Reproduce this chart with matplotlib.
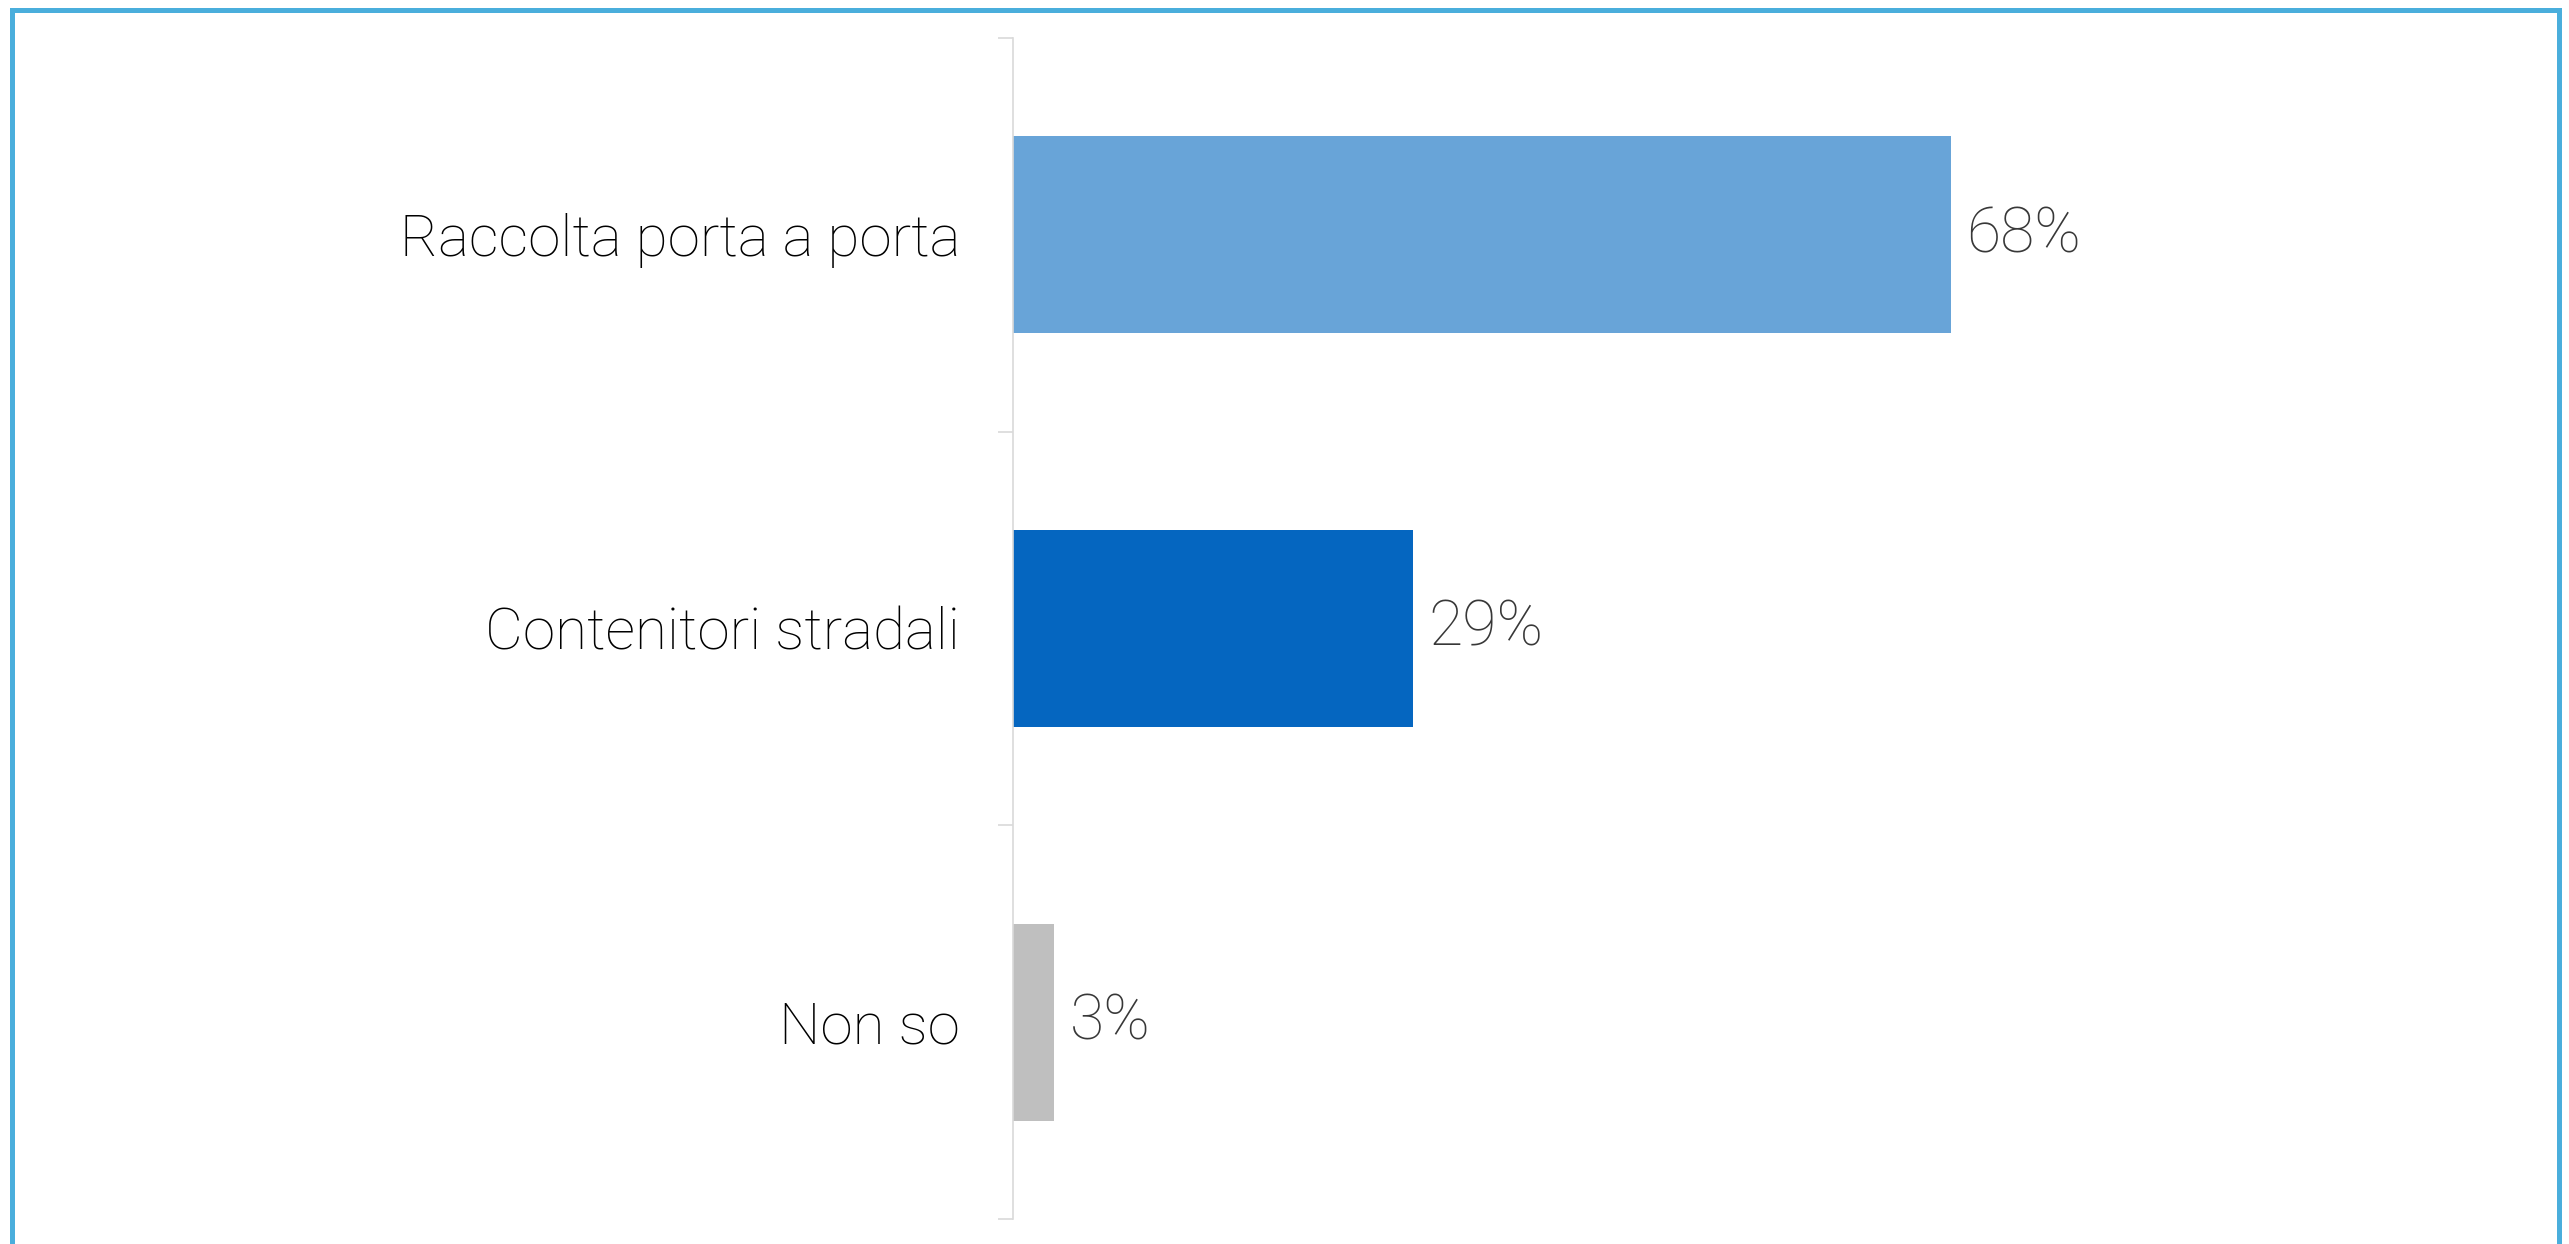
import matplotlib

matplotlib.use("Agg")
import matplotlib.pyplot as plt
from matplotlib.patches import Rectangle

categories = ["Raccolta porta a porta", "Contenitori stradali", "Non so"]
values = [68, 29, 3]
labels = ["68%", "29%", "3%"]
colors = ["#68a4d8", "#0566c0", "#bfbfbf"]

W, H, DPI = 2569, 1244, 100
fig = plt.figure(figsize=(W / DPI, H / DPI), dpi=DPI)

# axes placed in pixel terms of the reference
left, right = 1013, 1013 + 1380
top, bottom = 38, 1219
ax = fig.add_axes([left / W, 1 - bottom / H, (right - left) / W, (bottom - top) / H])

FONT = dict(family="Roboto", weight="light")

y = list(range(len(categories)))
ax.barh(y, values, height=0.5, color=colors)
ax.set_xlim(0, 100)
ax.set_ylim(len(categories) - 0.5, -0.5)

for yi, v, lab in zip(y, values, labels):
    ax.text(v + 1.1, yi, lab, va="center", ha="left", fontsize=45,
            color="#383838", **FONT)

ax.set_yticks(y)
ax.set_yticklabels(categories, fontsize=42, color="black", **FONT)
ax.tick_params(axis="y", which="major", length=0, pad=38)
ax.set_yticks([-0.5 + i for i in range(len(categories) + 1)], minor=True)
ax.tick_params(axis="y", which="minor", length=11, color="#d9d9d9", width=1.2)
ax.set_xticks([])
for s in ["top", "right", "bottom"]:
    ax.spines[s].set_visible(False)
ax.spines["left"].set_color("#d9d9d9")
ax.spines["left"].set_linewidth(1.2)

# blue frame around the chart (bottom edge falls outside the image)
fig.patches.append(Rectangle((12 / W, -0.05), (2559 - 12) / W, 1.05 - 9.5 / H,
                             transform=fig.transFigure, fill=False,
                             edgecolor="#4aaedc", linewidth=3.6))

fig.savefig("out.png", dpi=DPI)
